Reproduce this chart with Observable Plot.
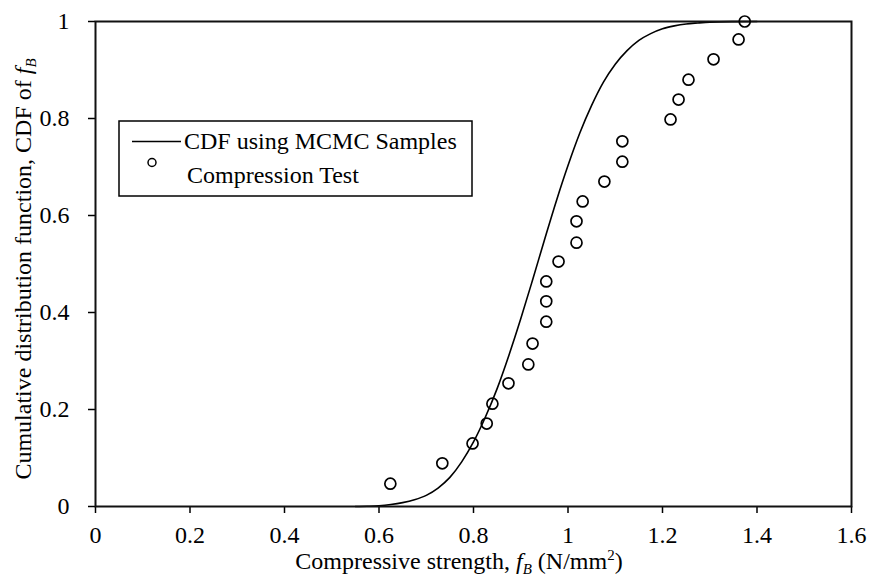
<!DOCTYPE html>
<html>
<head>
<meta charset="utf-8">
<script src="https://cdn.jsdelivr.net/npm/d3@7"></script>
<script src="https://cdn.jsdelivr.net/npm/@observablehq/plot@0.6"></script>
<style>
  html, body { margin: 0; padding: 0; background: #fff; }
  #chart { width: 870px; height: 576px; }
</style>
</head>
<body>
<div id="chart"></div>
<script>
// Axis ticks
const xTicks = [0, 0.2, 0.4, 0.6, 0.8, 1, 1.2, 1.4, 1.6];
const yTicks = [0, 0.2, 0.4, 0.6, 0.8, 1];

// Compression test data
const testStrength = [0.624, 0.734, 0.798, 0.828, 0.840, 0.874, 0.916, 0.925, 0.954, 0.954, 0.954, 0.980,
                      1.018, 1.018, 1.031, 1.077, 1.115, 1.115, 1.217, 1.234, 1.255, 1.308, 1.361, 1.374];
const testCdf = [0.047, 0.089, 0.130, 0.171, 0.212, 0.254, 0.293, 0.336, 0.381, 0.423, 0.464, 0.505,
                 0.544, 0.588, 0.629, 0.670, 0.711, 0.753, 0.798, 0.839, 0.880, 0.922, 0.963, 1.0];

// CDF using MCMC samples
const curveStrength = [0.550, 0.575, 0.600, 0.625, 0.650, 0.675, 0.700, 0.725, 0.750, 0.775, 0.800, 0.825,
                       0.850, 0.875, 0.900, 0.925, 0.950, 0.975, 1.000, 1.025, 1.050, 1.075, 1.100, 1.125,
                       1.150, 1.175, 1.200, 1.225, 1.250, 1.275, 1.300, 1.350, 1.400];
const curveCdf = [0.0, 0.0005, 0.0015, 0.004, 0.008, 0.014, 0.023, 0.038, 0.060, 0.092, 0.133, 0.184,
                  0.243, 0.312, 0.387, 0.467, 0.549, 0.629, 0.703, 0.770, 0.827, 0.875, 0.912, 0.940,
                  0.961, 0.975, 0.985, 0.991, 0.995, 0.997, 0.9986, 0.9997, 1.0];

const legendLabels = ["CDF using MCMC Samples", "Compression Test"];

const points = testStrength.map((x, i) => ({x, y: testCdf[i]}));
const curve = curveStrength.map((x, i) => ({x, y: curveCdf[i]}));

const font = "'Liberation Serif', 'Times New Roman', serif";
const fmt = d => String(d);

const plot = Plot.plot({
  width: 870,
  height: 576,
  marginLeft: 95,
  marginRight: 19,
  marginTop: 21,
  marginBottom: 70,
  style: {fontFamily: font, fontSize: "24px", color: "#000", background: "#fff"},
  x: {domain: [0, 1.6]},
  y: {domain: [0, 1]},
  marks: [
    Plot.axisX({ticks: xTicks, tickSize: 7, tickPadding: 12, tickFormat: fmt, label: null, fontSize: 24, strokeWidth: 1.5}),
    Plot.axisY({ticks: yTicks, tickSize: 7, tickPadding: 19, tickFormat: fmt, label: null, fontSize: 24, strokeWidth: 1.5}),
    Plot.line(curve, {x: "x", y: "y", curve: "monotone-x", stroke: "#000", strokeWidth: 1.6}),
    Plot.frame({stroke: "#111", strokeWidth: 2}),
    Plot.dot(points, {x: "x", y: "y", r: 5.5, stroke: "#000", strokeWidth: 1.7, fill: "none"})
  ]
});

document.getElementById("chart").appendChild(plot);

const svg = d3.select(plot);

// X axis label
const xl = svg.append("text")
  .attr("x", 459).attr("y", 569)
  .attr("text-anchor", "middle")
  .style("font-family", font).style("font-size", "24px").attr("fill", "#000");
xl.append("tspan").text("Compressive strength, ");
xl.append("tspan").attr("font-style", "italic").text("f");
xl.append("tspan").attr("font-style", "italic").attr("font-size", "15px").attr("dy", 5).text("B");
xl.append("tspan").attr("dy", -5).text(" (N/mm");
xl.append("tspan").attr("font-size", "15px").attr("dy", -9).text("2");
xl.append("tspan").attr("dy", 9).text(")");

// Y axis label
const yl = svg.append("text")
  .attr("transform", "translate(31,269) rotate(-90)")
  .attr("text-anchor", "middle")
  .style("font-family", font).style("font-size", "24px").attr("fill", "#000");
yl.append("tspan").text("Cumulative distribution function, CDF of ");
yl.append("tspan").attr("font-style", "italic").text("f");
yl.append("tspan").attr("font-style", "italic").attr("font-size", "15px").attr("dy", 5).text("B");

// Legend
const lg = svg.append("g").attr("text-anchor", "start");
lg.append("rect").attr("x", 119).attr("y", 121).attr("width", 353).attr("height", 75)
  .attr("fill", "#fff").attr("stroke", "#000").attr("stroke-width", 1.5);
lg.append("line").attr("x1", 132).attr("x2", 181).attr("y1", 141.5).attr("y2", 141.5)
  .attr("stroke", "#000").attr("stroke-width", 1.6);
lg.append("text").attr("x", 184).attr("y", 149).attr("text-anchor", "start").text(legendLabels[0])
  .style("font-family", font).style("font-size", "24px").attr("fill", "#000");
lg.append("circle").attr("cx", 152).attr("cy", 162.5).attr("r", 4)
  .attr("fill", "none").attr("stroke", "#000").attr("stroke-width", 1.5);
lg.append("text").attr("x", 187).attr("y", 183).attr("text-anchor", "start").text(legendLabels[1])
  .style("font-family", font).style("font-size", "24px").attr("fill", "#000");
</script>
</body>
</html>
